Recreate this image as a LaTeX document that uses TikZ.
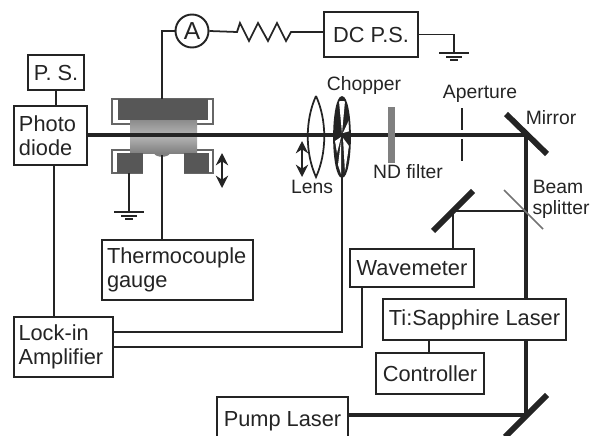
\documentclass[tikz,border=0pt]{standalone}
\usepackage{fontspec}
\setmainfont{Liberation Sans}
\usetikzlibrary{arrows.meta,calc}
\definecolor{ink}{gray}{0.14}
\definecolor{block}{gray}{0.34}
\tikzset{
	sized/.style 2 args={draw=ink,line width=1.3pt,inner sep=0pt,text=ink,font=\fontsize{12.4}{13.5}\selectfont,
		minimum width=#1*0.2mm,minimum height=#2*0.2mm},
	label/.style={inner sep=0pt,text=ink,font=\fontsize{11}{13}\selectfont},
	wire/.style={draw=ink,line width=1.3pt},
	beam/.style={draw=ink,line width=1.8pt},
	mirror/.style={draw=ink,line width=3.3pt},
	shift arrow/.style={draw=ink,line width=1.1pt,{Stealth[length=7pt,width=7pt]}-{Stealth[length=7pt,width=7pt]}},
	earth/.style={draw=ink,line width=0.8pt},
	outline/.style={draw=black!60,line width=0.7pt}
}
\begin{document}
\begin{tikzpicture}[x=0.2mm,y=-0.2mm]
		\clip (0,0) rectangle (590,435);
		\useasboundingbox (0,0) rectangle (590,435);
		% boxes
		\node[sized={56}{35}] (PS) at (56,72.5) {P. S.};
		\node[sized={73}{59},text width=1.26cm,align=left] (PD) at (50.5,135.5) {Photo\\diode};
		\node[sized={151}{60},text width=2.82cm,align=left] (TC) at (177.5,270) {Thermocouple\\gauge};
		\node[sized={99}{60},text width=1.8cm,align=left] (LI) at (63.5,347) {Lock-in\\Amplifier};
		\node[sized={94}{45}] (DC) at (371,34.5) {DC P.S.};
		\node[sized={124}{38}] (WM) at (412,268) {Wavemeter};
		\node[sized={183}{41}] (TS) at (474.5,319.5) {Ti:Sapphire Laser};
		\node[sized={108}{41}] (CT) at (430,373.5) {Controller};
		\node[sized={131}{44},text depth=0pt] (PL) at (282.5,419) {Pump Laser};
		\node[circle,draw=ink,line width=1.1pt,minimum size=0.66cm,inner sep=0pt,text=ink,font=\fontsize{14}{14}\selectfont] (AM) at (192,31) {A};
		% labels
		\node[label] (Lchop) at (364,86) {Chopper};
		\node[label] (Lap) at (480,94) {Aperture};
		\node[label] (Lmir) at (551,118) {Mirror};
		\node[label] (Lnd) at (408,172) {ND filter};
		\node[label] (Llens) at (312,187) {Lens};
		\node[label] (Lbeam) at (558,187) {Beam};
		\node[label] (Lspl) at (561,209) {splitter};
		% turning points
		\coordinate (M1) at (526,135);
		\coordinate (M2) at (526,415);
		\coordinate (BS) at (526,211);
		\coordinate (M3) at (453,211);
		\coordinate (CH) at (342,177);
		\coordinate (top) at (162,99);
		\coordinate (stem) at (162,155);
		\coordinate (PDfoot) at (54,165);
		\coordinate (WMfoot) at (362,287);
		\coordinate (G1) at (129,173);
		\coordinate (G2) at (129,212);
		\coordinate (G3) at (454,53);
		% cell
		\draw[outline] (130,124) -- (112,124) -- (112,99) -- (213,99) -- (213,124) -- (197,124);
		\fill[block] (118,99) rectangle (208,120);
		\shade[top color=black!45,bottom color=black!30] (130,120) rectangle (197,135);
		\shade[top color=black!28,bottom color=black!50] (130,135) rectangle (197,153);
		\draw[outline] (130,150) -- (112,150) -- (112,173) -- (143,173) (184,173) -- (213,173) -- (213,150) -- (197,150);
		\fill[block] (117,153) rectangle (143,173);
		\fill[block] (184,153) rectangle (209,173);
		\fill[black!50] (154,153) .. controls (155,158) and (169,158) .. (170,153) -- cycle;
		% beam line
		\draw[beam] (PD.east |- M1) -- (M1) -- (M1 |- TS.north);
		\draw[beam] (M1 |- TS.south) -- (M2) -- (PL.east |- M2);
		\draw[wire] (BS) -- (M3) -- (M3 |- WM.north);
		\draw[draw=black!55,line width=1pt] (504,190) -- (543,229);
		\draw[mirror] (506,114) -- (547,154);
		\draw[mirror] (473,191) -- (433,231);
		\draw[mirror] (547,395) -- (505,437);
		% optics
		\fill[black!50] (388,107) rectangle (395,163);
		\draw[draw=ink,line width=1pt] (462,108) -- (462,130) (462,139) -- (462,161);
		\draw[draw=ink,line width=1pt] (316,96) .. controls (305,120) and (305,153) .. (316,177) .. controls (327,153) and (327,120) .. (316,96);
		\begin{scope}
			\clip (342,137) ellipse [x radius=8,y radius=40];
			\fill[ink] (330,90) rectangle (354,180);
			\fill[white] (342,133) -- (339,101) -- (345,101) -- cycle;
			\fill[white] (343,133) -- (349,120) -- (350,131) -- cycle;
			\fill[white] (341,137) -- (335,141) -- (337,153) -- cycle;
			\fill[white] (343,138) -- (349,146) -- (345,172) -- cycle;
			\fill[white] (341,141) -- (338,165) -- (341,174) -- cycle;
		\end{scope}
		\draw[draw=ink,line width=1pt] (342,137) ellipse [x radius=8,y radius=40];
		\draw[beam] (335,135) -- (350,135);
		% wires
		\draw[wire] (PS) -- (PS |- PD.north);
		\draw[wire] (PDfoot) -- (PDfoot |- LI.north);
		\draw[wire] (stem) -- (stem |- TC.north);
		\draw[wire] (CH) -- (CH |- 0,332) -- (LI.east |- 0,332);
		\draw[wire] (WMfoot) -- (WMfoot |- 0,347) -- (LI.east |- 0,347);
		\draw[wire] (CT.north -| 429,0) -- (TS.south -| 429,0);
		\draw[draw=ink,line width=1pt] (top) -- (top |- AM.west) -- (AM.west);
		\draw[draw=ink,line width=1pt] (AM.east) -- (237,32) -- (240,23) -- (249,41) -- (258,23) -- (268,41) -- (277,23) -- (286,41) -- (291,32) -- (DC.west |- 0,32);
		\draw[draw=ink,line width=1pt] (DC.east) -- (G3 |- DC.east) -- (G3);
		\draw[draw=ink,line width=1pt] (G1) -- (G2);
		% grounds
		\draw[earth] ($(G2)+(-15,0)$) -- ($(G2)+(15,0)$) ($(G2)+(-8,4)$) -- ($(G2)+(8,4)$) ($(G2)+(-4,7)$) -- ($(G2)+(4,7)$);
		\draw[earth] ($(G3)+(-15,0)$) -- ($(G3)+(15,0)$) ($(G3)+(-8,4)$) -- ($(G3)+(8,4)$) ($(G3)+(-4,7)$) -- ($(G3)+(4,7)$);
		% stage arrows
		\draw[shift arrow] (222,153) -- (222,188);
		\draw[shift arrow] (302,141) -- (302,177);
	\end{tikzpicture}
\end{document}
